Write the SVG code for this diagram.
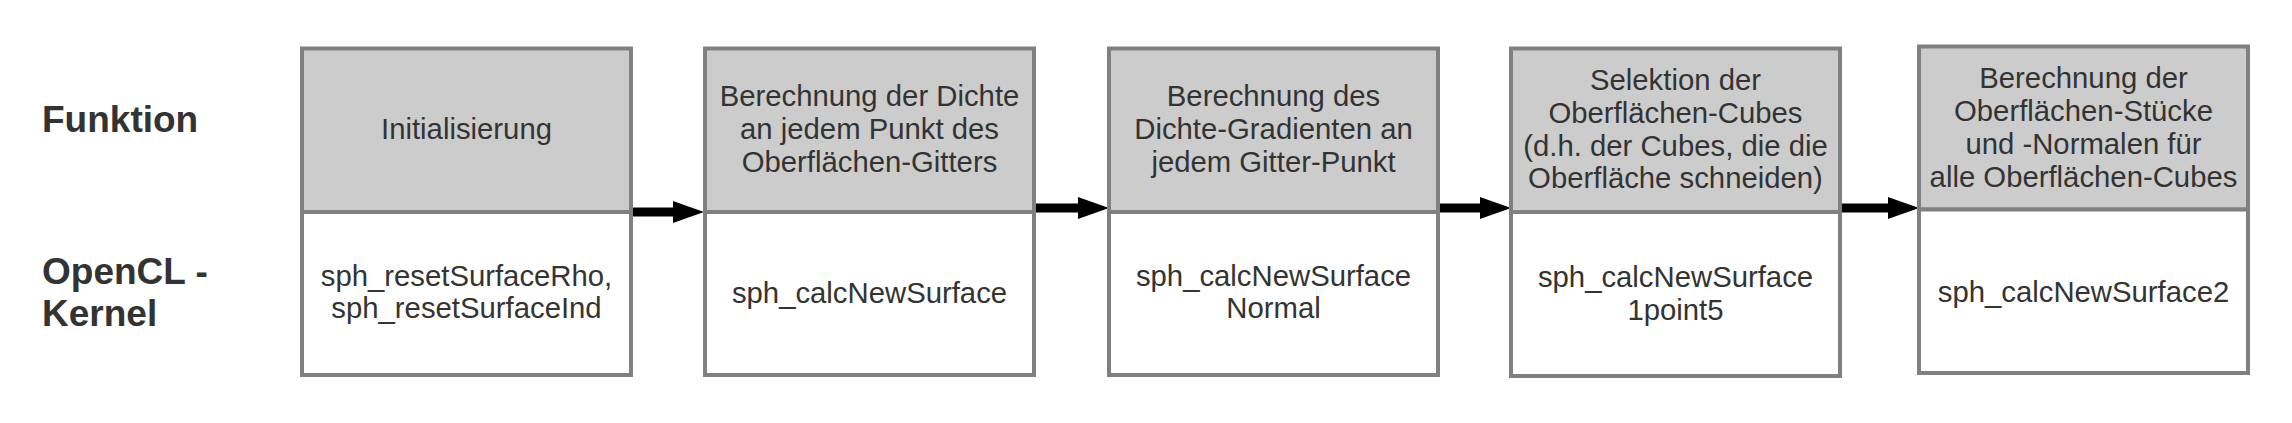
<svg xmlns="http://www.w3.org/2000/svg" width="2292" height="423" viewBox="0 0 2292 423">
<style>
.hdr{fill:#cccccc;stroke:#808080;stroke-width:4}
.body{fill:#ffffff;stroke:#808080;stroke-width:4}
.t{font-family:"Liberation Sans",Arial,sans-serif;font-size:29.3px;fill:#333333;text-anchor:middle}
.lbl{font-family:"Liberation Sans",Arial,sans-serif;font-size:37px;font-weight:bold;fill:#333333}
.arr{stroke:#000000;stroke-width:9;fill:none}
</style>
<defs>
<marker id="ah" markerUnits="userSpaceOnUse" viewBox="0 0 31 22" markerWidth="31" markerHeight="22" refX="0" refY="11" orient="auto">
<path d="M0,0 L31,11 L0,22 z" fill="#000000"/>
</marker>
</defs>
<rect width="2292" height="423" fill="#ffffff"/>
<g id="labels">
<text class="lbl" x="42" y="132">Funktion</text>
<text class="lbl" x="42" y="284">OpenCL -</text>
<text class="lbl" x="42" y="326">Kernel</text>
</g>
<g id="connectors">
<line class="arr" x1="631" y1="212" x2="673" y2="212" marker-end="url(#ah)"/>
<line class="arr" x1="1034" y1="208" x2="1078" y2="208" marker-end="url(#ah)"/>
<line class="arr" x1="1438" y1="208" x2="1480" y2="208" marker-end="url(#ah)"/>
<line class="arr" x1="1840" y1="208" x2="1888" y2="208" marker-end="url(#ah)"/>
</g>
<g id="node1">
<rect class="hdr" x="302" y="48.5" width="329" height="163.5"/>
<rect class="body" x="302" y="212" width="329" height="163"/>
<text class="t" x="466.5" y="139">Initialisierung</text>
<text class="t" x="466.5" y="286">sph_resetSurfaceRho,</text>
<text class="t" x="466.5" y="318">sph_resetSurfaceInd</text>
</g>
<g id="node2">
<rect class="hdr" x="705" y="48.5" width="329" height="163.5"/>
<rect class="body" x="705" y="212" width="329" height="163"/>
<text class="t" x="869.5" y="106">Berechnung der Dichte</text>
<text class="t" x="869.5" y="139">an jedem Punkt des</text>
<text class="t" x="869.5" y="172">Oberflächen-Gitters</text>
<text class="t" x="869.5" y="303">sph_calcNewSurface</text>
</g>
<g id="node3">
<rect class="hdr" x="1109" y="48.5" width="329" height="163.5"/>
<rect class="body" x="1109" y="212" width="329" height="163"/>
<text class="t" x="1273.5" y="106">Berechnung des</text>
<text class="t" x="1273.5" y="139">Dichte-Gradienten an</text>
<text class="t" x="1273.5" y="172">jedem Gitter-Punkt</text>
<text class="t" x="1273.5" y="286">sph_calcNewSurface</text>
<text class="t" x="1273.5" y="318">Normal</text>
</g>
<g id="node4">
<rect class="hdr" x="1511" y="48.5" width="329" height="163.5"/>
<rect class="body" x="1511" y="212" width="329" height="164"/>
<text class="t" x="1675.5" y="90">Selektion der</text>
<text class="t" x="1675.5" y="123">Oberflächen-Cubes</text>
<text class="t" x="1675.5" y="156">(d.h. der Cubes, die die</text>
<text class="t" x="1675.5" y="188">Oberfläche schneiden)</text>
<text class="t" x="1675.5" y="287">sph_calcNewSurface</text>
<text class="t" x="1675.5" y="320">1point5</text>
</g>
<g id="node5">
<rect class="hdr" x="1919" y="46.5" width="329" height="163"/>
<rect class="body" x="1919" y="209.5" width="329" height="163.5"/>
<text class="t" x="2083.5" y="88">Berechnung der</text>
<text class="t" x="2083.5" y="121">Oberflächen-Stücke</text>
<text class="t" x="2083.5" y="154">und -Normalen für</text>
<text class="t" x="2083.5" y="187">alle Oberflächen-Cubes</text>
<text class="t" x="2083.5" y="302">sph_calcNewSurface2</text>
</g>
</svg>
